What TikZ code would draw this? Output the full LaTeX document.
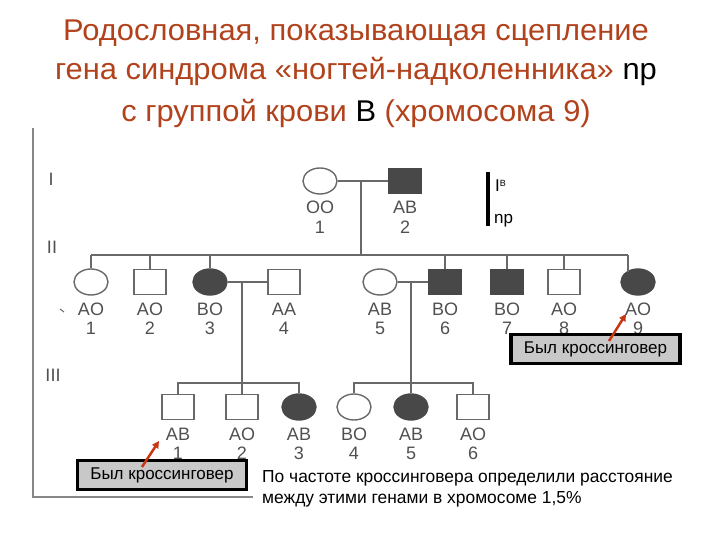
\documentclass[tikz,border=0pt]{standalone}
\usepackage{fontspec}
\usepackage{graphicx}
\setmainfont{Liberation Sans}
\usetikzlibrary{shapes.geometric,arrows.meta}
\definecolor{titlecol}{RGB}{178,66,28}
\definecolor{pgray}{RGB}{105,105,105}
\definecolor{ptext}{RGB}{80,80,80}
\definecolor{pfill}{RGB}{72,72,72}
\definecolor{boxgray}{RGB}{200,200,200}
\definecolor{arrred}{RGB}{200,55,20}
\newcommand\pedlab[4]{%
  \node[lbl,yshift=-33bp] (#1g) at (#2) {#3};
  \node[lbl,yshift=-52bp] (#1n) at (#2) {#4};}
\newcommand\titlestretch[1]{\scalebox{1.03}[1]{#1}}
\begin{document}
\begin{tikzpicture}[x=1bp,y=-1bp,
  titlefont/.style={text=titlecol,font=\fontsize{30bp}{32bp}\selectfont,inner sep=0pt,anchor=base},
  pline/.style={draw=pgray,line width=1.4bp},
  male/.style={rectangle,draw=pgray,line width=1.4bp,minimum width=32bp,minimum height=25bp,inner sep=0pt,fill=white},
  female/.style={ellipse,draw=pgray,line width=1.4bp,minimum width=34bp,minimum height=26bp,inner sep=0pt,fill=white},
  aff/.style={fill=pfill,draw=pfill},
  lbl/.style={text=ptext,font=\fontsize{18bp}{18bp}\selectfont,inner sep=0pt,anchor=base},
  genlbl/.style={text=ptext,font=\fontsize{18bp}{18bp}\selectfont,inner sep=0pt},
  crossbox/.style={draw=black,line width=3.5bp,fill=boxgray,minimum width=169bp,minimum height=29bp,inner sep=0pt,font=\fontsize{17bp}{17bp}\selectfont},
  redarrow/.style={draw=arrred,line width=2.5bp,-{Triangle[length=7bp,width=7bp]}},
  note/.style={font=\fontsize{17.4bp}{20bp}\selectfont,inner sep=0pt,anchor=base west}]
\useasboundingbox (0,0) rectangle (720,540);
% title
\node[titlefont] (t1) at (356,41) {\titlestretch{Родословная, показывающая сцепление}};
\node[titlefont] (t2) at (356,80) {\titlestretch{гена синдрома «ногтей-надколенника» \textcolor{black}{np}}};
\node[titlefont] (t3) at (356,122) {\titlestretch{с группой крови \textcolor{black}{B} (хромосома 9)}};
% frame
\coordinate (bTop) at (33,128);
\coordinate (bCorner) at (33,497);
\coordinate (bEnd) at (253,497);
\draw[draw=pgray!80,line width=1.2bp] (bTop) -- (bCorner) -- (bEnd);
% generation numbers
\node[genlbl] (g1) at (51,179) {I};
\node[genlbl] (g2) at (52,247) {II};
\node[genlbl] (g3) at (53,375) {III};
% generation I
\node[female] (i1) at (320,181) {};
\node[male,aff] (i2) at (405,181) {};
\pedlab{i1}{i1}{OO}{1}
\pedlab{i2}{i2}{AB}{2}
% generation II
\node[female] (ii1) at (91,282) {};
\node[male] (ii2) at (150,282) {};
\node[female,aff] (ii3) at (210,282) {};
\node[male] (ii4) at (284,282) {};
\node[female] (ii5) at (380,282) {};
\node[male,aff] (ii6) at (445,282) {};
\node[male,aff] (ii7) at (507,282) {};
\node[male] (ii8) at (564,282) {};
\node[female,aff] (ii9) at (638,282) {};
\pedlab{ii1}{ii1}{AO}{1}
\pedlab{ii2}{ii2}{AO}{2}
\pedlab{ii3}{ii3}{BO}{3}
\pedlab{ii4}{ii4}{AA}{4}
\pedlab{ii5}{ii5}{AB}{5}
\pedlab{ii6}{ii6}{BO}{6}
\pedlab{ii7}{ii7}{BO}{7}
\pedlab{ii8}{ii8}{AO}{8}
\pedlab{ii9}{ii9}{AO}{9}
% generation III
\node[male] (iii1) at (178,407) {};
\node[male] (iii2) at (242,407) {};
\node[female,aff] (iii3) at (299,407) {};
\node[female] (iii4) at (354,407) {};
\node[female,aff] (iii5) at (411,407) {};
\node[male] (iii6) at (473,407) {};
\pedlab{iii1}{iii1}{AB}{1}
\pedlab{iii2}{iii2}{AO}{2}
\pedlab{iii3}{iii3}{AB}{3}
\pedlab{iii4}{iii4}{BO}{4}
\pedlab{iii5}{iii5}{AB}{5}
\pedlab{iii6}{iii6}{AO}{6}
% connectors gen I -> II
\draw[pline] (i1) -- (i2);
\coordinate (m1) at (361,181);
\coordinate (s2) at (361,255);
\coordinate (s2L) at (91,255);
\coordinate (s2R) at (628,255);
\coordinate (d9) at (628,271.5);
\draw[pline] (m1) -- (s2);
\draw[pline] (s2L) -- (s2R);
\foreach \c in {ii1,ii2,ii3,ii6,ii7,ii8}
  \draw[pline] (\c.north) -- (\c.north |- s2L);
\draw[pline] (s2R) -- (d9);
% connectors gen II -> III
\draw[pline] (ii3) -- (ii4);
\draw[pline] (ii5) -- (ii6);
\coordinate (m2) at (242,282);
\coordinate (m3) at (411,282);
\coordinate (s3a) at (242,383);
\coordinate (s3b) at (411,383);
\draw[pline] (m2) -- (iii2.north);
\draw[pline] (iii1.north) |- (s3a) -| (iii3.north);
\draw[pline] (m3) -- (iii5.north);
\draw[pline] (iii4.north) |- (s3b) -| (iii6.north);
% small tick
\coordinate (tk1) at (60,309);
\coordinate (tk2) at (64,312);
\draw[draw=pgray,line width=1bp] (tk1) -- (tk2);
% chromosome
\coordinate (chrT) at (488,172);
\coordinate (chrB) at (488,226);
\draw[line width=4bp] (chrT) -- (chrB);
\node[anchor=base west,inner sep=0pt,font=\fontsize{17bp}{17bp}\selectfont] (chrIB) at (495,192) {I\raisebox{5bp}{\fontsize{9bp}{9bp}\selectfont B}};
\node[anchor=base west,inner sep=0pt,font=\fontsize{17bp}{17bp}\selectfont] (chrnp) at (494,224) {np};
% crossover boxes
\node[crossbox] (box2) at (595.5,349) {Был кроссинговер};
\node[crossbox] (box3) at (162,475) {Был кроссинговер};
\coordinate (a2t) at (609,341);
\coordinate (a2h) at (626,314);
\coordinate (a3t) at (142,467);
\coordinate (a3h) at (159,441);
\draw[redarrow] (a2t) -- (a2h);
\draw[redarrow] (a3t) -- (a3h);
% note
\node[note] (note1) at (262,482) {По частоте кроссинговера определили расстояние};
\node[note] (note2) at (262,503) {между этими генами в хромосоме 1,5\%};
\end{tikzpicture}
\end{document}
